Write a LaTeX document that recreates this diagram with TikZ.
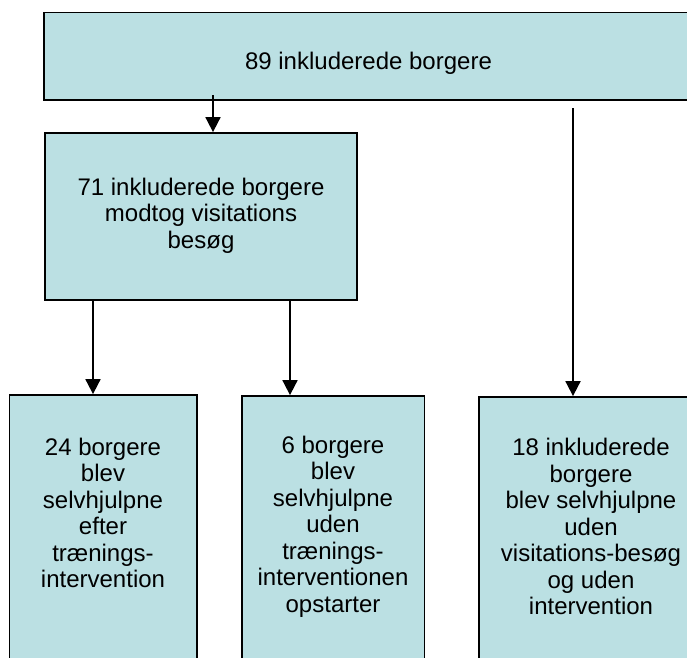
\documentclass[tikz,border=0pt]{standalone}
\usepackage{fontspec}
\setmainfont{Liberation Sans}
\usetikzlibrary{arrows.meta}
\definecolor{boxfill}{RGB}{187,224,227}
\begin{document}
\begin{tikzpicture}[x=1pt,y=-1pt,
  box/.style={draw=black, line width=1.8pt, fill=boxfill, inner sep=0pt},
  txt/.style={align=center, inner sep=0pt, font=\fontsize{24}{26.5}\selectfont},
  arr/.style={line width=1.8pt, -{Triangle[width=15pt,length=15pt]}}]
\useasboundingbox (0,0) rectangle (687,657);
\clip (0,0) rectangle (687,657);
% boxes
\node[box, minimum width=660, minimum height=87.5] (top) at (374,56.25) {};
\node[box, minimum width=312, minimum height=167] (mid) at (201,216.5) {};
\node[box, minimum width=187.5, minimum height=285] (b1) at (103.25,537.5) {};
\node[box, minimum width=182.5, minimum height=284] (b2) at (333.25,538) {};
\node[box, minimum width=224, minimum height=283] (b3) at (591,538.5) {};
% texts
\node[txt] (ttop) at (368.5,63) {89 inkluderede borgere};
\node[txt] (tmid) at (201,215.5) {71 inkluderede borgere\\modtog visitations\\besøg};
\node[txt] (tb1) at (103,513) {24 borgere\\blev\\selvhjulpne\\efter\\trænings-\\intervention};
\node[txt] (tb2) at (333,526.5) {6 borgere\\blev\\selvhjulpne\\uden\\trænings-\\interventionen\\opstarter};
\node[txt] (tb3) at (591,526.5) {18 inkluderede\\borgere\\blev selvhjulpne\\uden\\visitations-besøg\\og uden\\intervention};
% connector anchors
\coordinate (t0) at (213,95);
\coordinate (x1) at (93,0);
\coordinate (x2) at (290,0);
\coordinate (r0) at (573,108);
% connectors
\draw[arr] (t0) -- (t0 |- mid.north);
\draw[arr] (mid.south -| x1) -- (b1.north -| x1);
\draw[arr] (mid.south -| x2) -- (b2.north -| x2);
\draw[arr] (r0) -- (r0 |- b3.north);
\end{tikzpicture}
\end{document}
